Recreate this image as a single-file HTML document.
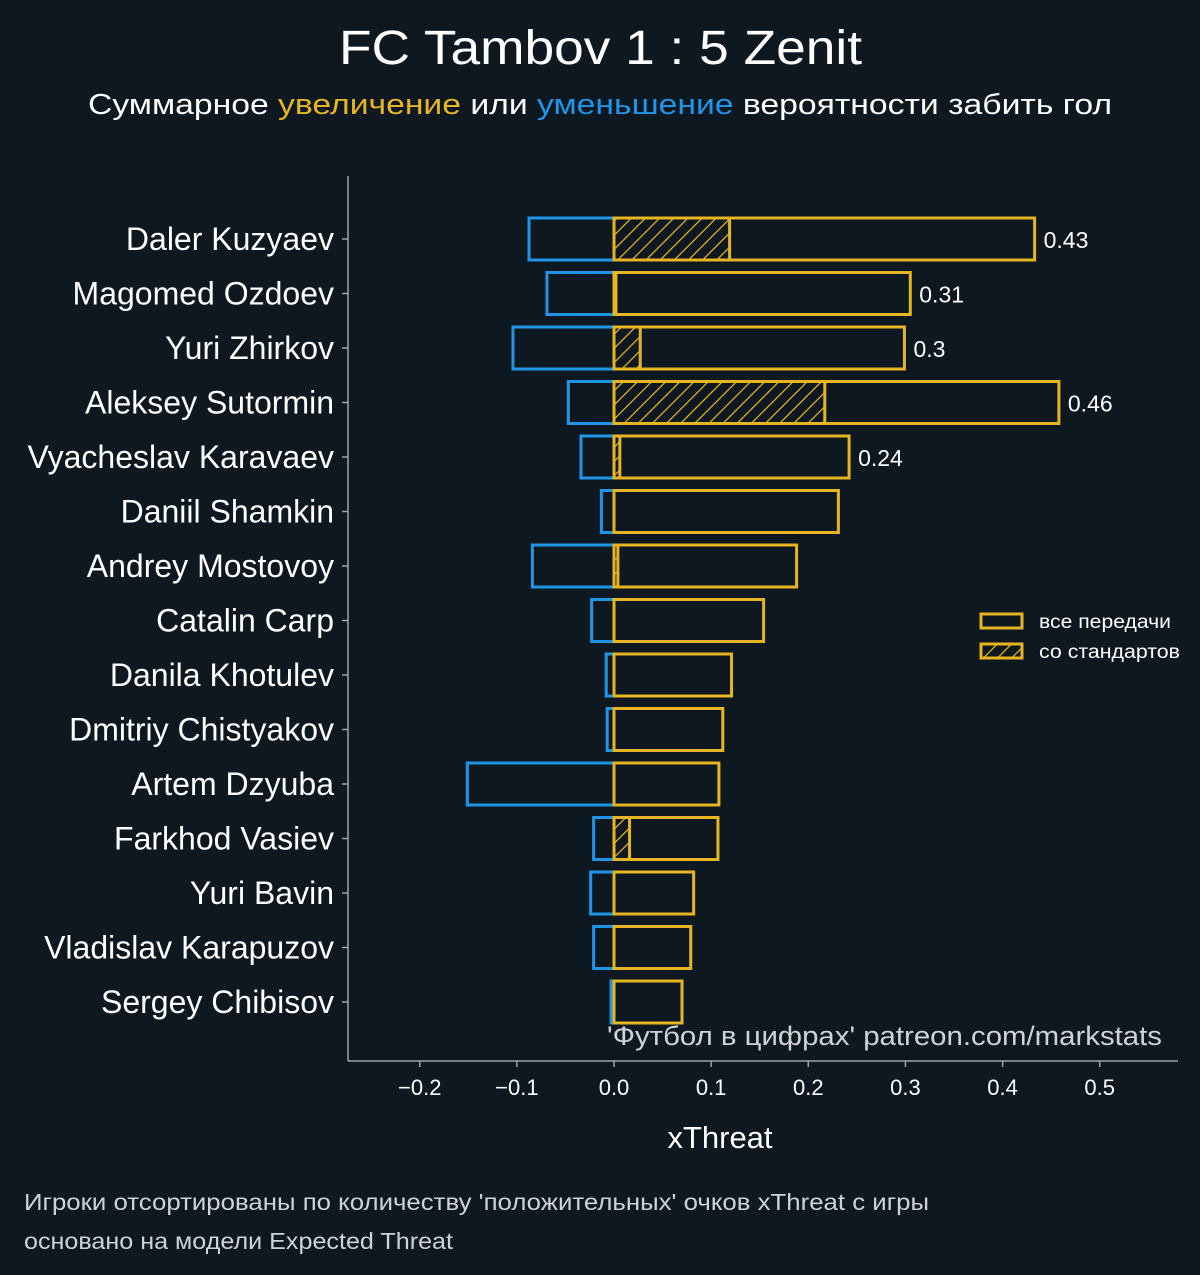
<!DOCTYPE html>
<html><head><meta charset="utf-8"><style>
html,body{margin:0;padding:0;background:#0e1821;}
svg{display:block;font-family:"Liberation Sans","DejaVu Sans",sans-serif;}
</style></head><body>
<svg id="chart" width="1200" height="1275" viewBox="0 0 1200 1275">
<defs>
<pattern id="hatch" patternUnits="userSpaceOnUse" width="10" height="10" patternTransform="rotate(45)">
<line x1="0" y1="0" x2="0" y2="10" stroke="#e6b520" stroke-width="2.5"/>
</pattern>
</defs>
<rect width="1200" height="1275" fill="#0e1821"/>
<text x="339" y="64" textLength="523" lengthAdjust="spacingAndGlyphs" font-size="48" fill="#fff">FC Tambov 1 : 5 Zenit</text>
<text x="88" y="114" textLength="1024" lengthAdjust="spacingAndGlyphs" font-size="29" fill="#fff">Суммарное <tspan fill="#e6b520">увеличение</tspan> или <tspan fill="#1f95e8">уменьшение</tspan> вероятности забить гол</text>
<g id="plot"></g>
<text x="607" y="1045" textLength="555" lengthAdjust="spacingAndGlyphs" font-size="27" fill="#cfd3d6">'Футбол в цифрах' patreon.com/markstats</text>
<text x="720" y="1148" text-anchor="middle" font-size="31" fill="#fff">xThreat</text>
<text x="24" y="1210" textLength="905" lengthAdjust="spacingAndGlyphs" font-size="23" fill="#cfd3d6">Игроки отсортированы по количеству 'положительных' очков xThreat с игры</text>
<text x="24" y="1249" textLength="429" lengthAdjust="spacingAndGlyphs" font-size="23" fill="#cfd3d6">основано на модели Expected Threat</text>
<g>
<rect x="981" y="614" width="41" height="14" fill="none" stroke="#e6b520" stroke-width="3"/>
<text x="1039" y="628" textLength="132" lengthAdjust="spacingAndGlyphs" font-size="19" fill="#fff">все передачи</text>
<rect x="981" y="644" width="41" height="14" fill="url(#hatch)" stroke="#e6b520" stroke-width="3"/>
<text x="1039" y="658" textLength="141" lengthAdjust="spacingAndGlyphs" font-size="19" fill="#fff">со стандартов</text>
</g>
</svg>
<script>
const players = ["Daler Kuzyaev","Magomed Ozdoev","Yuri Zhirkov","Aleksey Sutormin","Vyacheslav Karavaev","Daniil Shamkin","Andrey Mostovoy","Catalin Carp","Danila Khotulev","Dmitriy Chistyakov","Artem Dzyuba","Farkhod Vasiev","Yuri Bavin","Vladislav Karapuzov","Sergey Chibisov"];
const positive = [0.433,0.305,0.299,0.458,0.242,0.231,0.188,0.154,0.121,0.112,0.108,0.107,0.082,0.079,0.070];
const negative = [-0.0875,-0.069,-0.104,-0.047,-0.034,-0.013,-0.084,-0.023,-0.008,-0.007,-0.151,-0.021,-0.024,-0.021,-0.003];
const setPieces = [0.119,0.002,0.027,0.217,0.006,0,0.004,0,0,0,0,0.016,0,0,0];
const valueLabels = ["0.43","0.31","0.3","0.46","0.24"];
const xTicks = [-0.2,-0.1,0.0,0.1,0.2,0.3,0.4,0.5];
const xTickLabels = ["−0.2","−0.1","0.0","0.1","0.2","0.3","0.4","0.5"];

const NS="http://www.w3.org/2000/svg";
const g=document.getElementById('plot');
const x0=614, sc=971.4;
const X=v=>x0+v*sc;
const Y=i=>239+i*54.5;
const bh=42;
function mk(tag,attrs,parent){const e=document.createElementNS(NS,tag);for(const k in attrs)e.setAttribute(k,attrs[k]);(parent||g).appendChild(e);return e;}
let s=mk('line',{x1:348,y1:176,x2:348,y2:1061,stroke:'#9aa5a8','stroke-width':1.5});


s=mk('line',{x1:348,y1:1061,x2:1178,y2:1061,stroke:'#9aa5a8','stroke-width':1.5});


xTicks.forEach((t,i)=>{
  const tk=mk('line',{x1:X(t),y1:1061,x2:X(t),y2:1067,stroke:'#9aa5a8','stroke-width':1.5});
  
  
  const tl=mk('text',{x:X(t),y:1095,'text-anchor':'middle','font-size':22,fill:'#fff'});
  tl.textContent=xTickLabels[i];
  
  
});
players.forEach((p,i)=>{
  const y=Y(i);
  const tk=mk('line',{x1:342,y1:y,x2:348,y2:y,stroke:'#9aa5a8','stroke-width':1.5});
  
  
  const lb=mk('text',{x:334,y:y+11,'text-anchor':'end','font-size':32,fill:'#fff'});
  lb.textContent=p;
  
  
  const nb=mk('rect',{x:X(negative[i]),y:y-bh/2,width:X(0)-X(negative[i]),height:bh,fill:'none',stroke:'#1f95e8','stroke-width':3});
  
  
  if(setPieces[i]>0){
    const hb=mk('rect',{x:X(0),y:y-bh/2,width:X(setPieces[i])-X(0),height:bh,fill:'url(#hatch)',stroke:'#e6b520','stroke-width':3});
    
    
  }
  const pb=mk('rect',{x:X(0),y:y-bh/2,width:X(positive[i])-X(0),height:bh,fill:'none',stroke:'#e6b520','stroke-width':3});
  
  
  if(i<valueLabels.length){
    const vl=mk('text',{x:X(positive[i])+9,y:y+9,'font-size':23,fill:'#fff'});
    vl.textContent=valueLabels[i];
    
    
  }
});
</script>
</body></html>
